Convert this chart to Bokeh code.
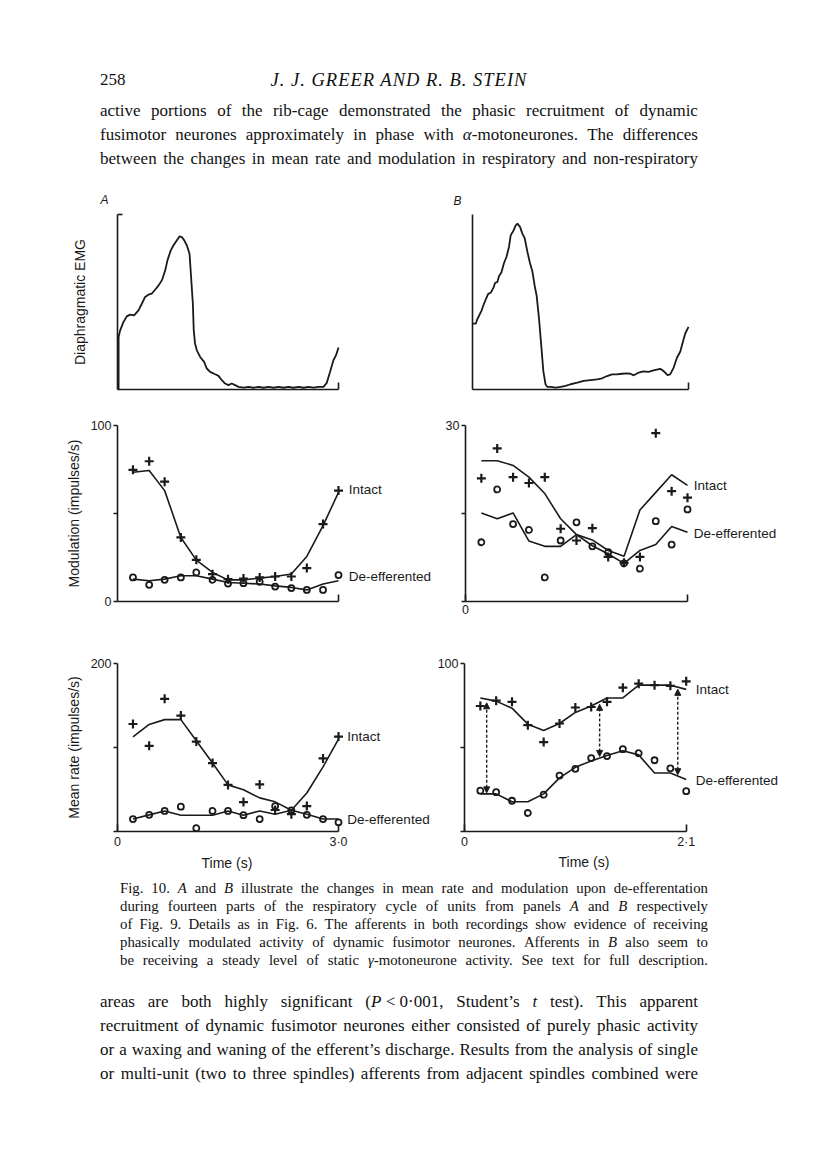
from bokeh.plotting import figure
from bokeh.layouts import column, row
from bokeh.models import Div, Range1d, FixedTicker, Label, Arrow, NormalHead, ColumnDataSource, Title
from bokeh.embed import file_html
from bokeh.resources import INLINE

# ---------------- data ----------------
# Diaphragmatic EMG traces (x = fraction of respiratory cycle, y = arbitrary amplitude 0-100)
emg_a_t = [0.005, 0.005, 0.012, 0.027, 0.042, 0.057, 0.075, 0.095, 0.110, 0.125, 0.140, 0.155, 0.170, 0.186,
           0.201, 0.216, 0.226, 0.241, 0.253, 0.268, 0.281, 0.291, 0.302, 0.314, 0.326, 0.333, 0.341, 0.345,
           0.351, 0.359, 0.374, 0.392, 0.404, 0.419, 0.442, 0.457, 0.472, 0.487, 0.502, 0.517, 0.532, 0.548,
           0.570, 0.593, 0.615, 0.638, 0.661, 0.683, 0.706, 0.729, 0.751, 0.774, 0.796, 0.819, 0.842, 0.864,
           0.887, 0.910, 0.932, 0.947, 0.962, 0.977, 0.989, 1.000]
emg_a_v = [0.0, 30.0, 33.8, 38.6, 41.8, 42.8, 42.4, 45.2, 49.0, 52.9, 54.2, 54.8, 57.0, 59.5,
           62.4, 68.1, 73.8, 79.5, 82.3, 85.2, 87.5, 87.1, 85.2, 82.3, 77.6, 64.3, 49.0, 33.8,
           26.2, 22.4, 18.6, 15.8, 12.0, 10.1, 8.7, 7.8, 5.3, 3.4, 2.5, 3.4, 2.5, 1.5,
           1.1, 1.5, 1.0, 1.5, 1.0, 1.5, 1.0, 1.5, 1.0, 1.5, 1.0, 1.5, 1.0, 1.5,
           1.1, 1.5, 1.5, 3.8, 10.1, 16.7, 19.6, 24.0]
emg_b_t = [0.0, 0.015, 0.023, 0.031, 0.042, 0.051, 0.062, 0.072, 0.085, 0.097, 0.105, 0.115, 0.123, 0.134,
           0.146, 0.158, 0.169, 0.177, 0.189, 0.200, 0.208, 0.220, 0.231, 0.242, 0.254, 0.266, 0.277, 0.288,
           0.297, 0.308, 0.318, 0.328, 0.338, 0.346, 0.362, 0.385, 0.408, 0.431, 0.454, 0.485, 0.515, 0.546,
           0.577, 0.600, 0.623, 0.646, 0.669, 0.692, 0.715, 0.731, 0.746, 0.769, 0.792, 0.815, 0.838, 0.869,
           0.885, 0.903, 0.915, 0.931, 0.946, 0.962, 0.974, 0.985, 1.000]
emg_b_v = [37.6, 37.6, 40.4, 42.3, 45.1, 48.3, 51.7, 54.5, 55.4, 58.2, 61.0, 61.4, 64.8, 67.0,
           72.3, 76.0, 81.6, 88.2, 90.6, 93.8, 94.8, 92.9, 89.1, 86.3, 78.8, 72.3, 67.6, 59.2,
           53.6, 40.4, 25.5, 10.5, 3.0, 1.5, 1.5, 1.1, 1.5, 2.1, 3.0, 3.9, 4.9, 5.4,
           5.8, 6.4, 7.7, 8.6, 8.6, 9.0, 9.2, 9.0, 8.1, 9.6, 10.3, 10.1, 10.9, 11.8,
           10.5, 8.2, 8.6, 12.4, 18.0, 21.7, 27.3, 32.0, 35.8]

# fourteen parts of the respiratory cycle (s)
time_a = [0.21, 0.43, 0.64, 0.86, 1.07, 1.29, 1.50, 1.71, 1.93, 2.14, 2.36, 2.57, 2.79, 3.00]
time_b = [0.15, 0.30, 0.45, 0.60, 0.75, 0.90, 1.05, 1.20, 1.35, 1.50, 1.65, 1.80, 1.95, 2.10]

# Modulation (impulses/s)
mod_a_intact_pts = [74.8, 79.7, 68.1, 36.4, 23.7, 15.5, 12.7, 13.0, 13.7, 14.2, 14.2, 19.0, 44.0, 63.0]
mod_a_intact_line = [73.4, 74.4, 63.0, 36.4, 23.5, 16.5, 12.3, 12.3, 13.3, 14.2, 15.6, 25.6, 43.1, 62.0]
mod_a_deeff_pts = [13.7, 9.5, 12.3, 13.7, 16.5, 12.3, 10.2, 10.4, 11.2, 8.5, 7.6, 6.6, 6.6, 15.0]
mod_a_deeff_line = [12.7, 11.8, 12.7, 14.6, 14.6, 12.7, 10.8, 10.4, 9.9, 8.9, 8.0, 6.6, 9.9, 11.8]

mod_b_intact_pts = [21.0, 26.1, 21.2, 20.2, 21.2, 12.4, 10.4, 12.5, 7.6, 6.6, 7.6, 28.7, 18.8, 17.7]
mod_b_intact_line = [24.0, 24.0, 23.2, 21.2, 18.4, 14.1, 11.4, 10.5, 8.7, 7.7, 15.6, 18.6, 21.6, 19.8]
mod_b_deeff_pts = [10.1, 19.1, 13.2, 12.2, 4.1, 10.4, 13.5, 9.4, 8.4, 6.5, 5.6, 13.7, 9.7, 15.7]
mod_b_deeff_line = [15.1, 14.1, 15.1, 10.3, 9.4, 9.4, 11.4, 9.5, 8.1, 6.5, 8.7, 9.7, 12.8, 11.8]

# Mean rate (impulses/s)
rate_a_intact_pts = [128, 102, 158, 138, 107, 81.5, 55.5, 35, 56, 25.6, 20.6, 30.3, 87, 113]
rate_a_intact_line = [112.6, 127.4, 133.2, 133.2, 108, 81.5, 55.5, 49.7, 40, 35.3, 25.2, 45.8, 76.9, 110]
rate_a_deeff_pts = [14.8, 19.8, 24.5, 29.5, 3.9, 24.5, 24.5, 19.4, 14.8, 30.3, 25.2, 19.8, 14.8, 10.9]
rate_a_deeff_line = [14.8, 19.8, 24.5, 19.4, 19.4, 19.4, 24.5, 19.4, 24.5, 20.6, 25.2, 20.6, 14.8, 14.8]

rate_b_intact_pts = [74.7, 77.9, 77.2, 63.3, 53.2, 64.3, 73.8, 74.1, 77.2, 85.6, 88.0, 87.1, 86.7, 89.4]
rate_b_intact_line = [79.5, 77.6, 73.4, 63.9, 60.1, 64.3, 70.9, 74.7, 79.5, 79.5, 87.1, 87.1, 87.1, 84.6]
rate_b_deeff_pts = [24.3, 23.4, 18.3, 11.0, 21.9, 33.3, 37.3, 43.7, 44.9, 49.0, 46.6, 42.4, 37.6, 24.0]
rate_b_deeff_line = [22.4, 22.4, 17.7, 17.7, 22.4, 31.9, 38.2, 42.0, 45.2, 48.1, 45.6, 34.8, 34.8, 31.0]

# dashed double arrows in panel B (mean rate)
arrow_x = [0.21, 1.28, 2.02]
arrow_top = [76.6, 75.7, 84.6]
arrow_bot = [23.0, 44.7, 33.8]

# page texts
header_number = "258"
header_title = "J. J. GREER AND R. B. STEIN"
para_top = [
    "active portions of the rib-cage demonstrated the phasic recruitment of dynamic",
    "fusimotor neurones approximately in phase with <i>α</i>-motoneurones. The differences",
    "between the changes in mean rate and modulation in respiratory and non-respiratory",
]
caption_lines = [
    "Fig. 10. <i>A</i> and <i>B</i> illustrate the changes in mean rate and modulation upon de-efferentation",
    "during fourteen parts of the respiratory cycle of units from panels <i>A</i> and <i>B</i> respectively",
    "of Fig. 9. Details as in Fig. 6. The afferents in both recordings show evidence of receiving",
    "phasically modulated activity of dynamic fusimotor neurones. Afferents in <i>B</i> also seem to",
    "be receiving a steady level of static <i>γ</i>-motoneurone activity. See text for full description.",
]
para_bottom = [
    "areas are both highly significant (<i>P</i>&nbsp;&lt;&nbsp;0·001, Student’s <i>t</i> test). This apparent",
    "recruitment of dynamic fusimotor neurones either consisted of purely phasic activity",
    "or a waxing and waning of the efferent’s discharge. Results from the analysis of single",
    "or multi-unit (two to three spindles) afferents from adjacent spindles combined were",
]

# ---------------- styling ----------------
INK = "#1a1a1a"
SANS = "Liberation Sans"
SERIF = "Liberation Serif"


def panel(width, height, borders, xmax, axis_px, ymax, yticks, ylabels, xticks, xlabels,
          ylabel=None, ytick_in=0, ytick_out=4, title=None, title_offset=0, title_standoff=10):
    left, right, top, bottom = borders
    frame_w = width - left - right
    x_end = xmax * frame_w / axis_px
    p = figure(width=width, height=height, x_range=Range1d(0, x_end), y_range=Range1d(0, ymax),
               output_backend="svg", toolbar_location=None,
               min_border_left=left, min_border_right=right,
               min_border_top=top, min_border_bottom=bottom,
               background_fill_color="white", border_fill_color="white", margin=0)
    p.outline_line_color = None
    p.xgrid.grid_line_color = None
    p.ygrid.grid_line_color = None
    if title:
        p.title.text = title
        p.title.align = "left"
        p.title.offset = title_offset
        p.title.standoff = title_standoff
        p.title.text_font = SANS
        p.title.text_font_style = "italic"
        p.title.text_font_size = "12px"
        p.title.text_color = INK
    for ax in (p.xaxis[0], p.yaxis[0]):
        ax.axis_line_color = INK
        ax.axis_line_width = 1.6
        ax.major_tick_line_color = INK
        ax.major_tick_line_width = 1.6
        ax.minor_tick_line_color = None
        ax.major_label_text_font = SANS
        ax.major_label_text_font_size = "12.5px"
        ax.major_label_text_color = INK
        ax.axis_label_text_font = SANS
        ax.axis_label_text_font_size = "14px"
        ax.axis_label_text_font_style = "normal"
        ax.axis_label_text_color = INK
    xa = p.xaxis[0]
    xa.bounds = (0, xmax)
    xa.ticker = FixedTicker(ticks=xticks)
    xa.major_label_overrides = dict(zip(xticks, xlabels))
    xa.major_tick_in = 7
    xa.major_tick_out = 0
    xa.major_label_standoff = 3
    ya = p.yaxis[0]
    ya.ticker = FixedTicker(ticks=yticks)
    ya.major_label_overrides = dict(zip(yticks, ylabels))
    ya.major_tick_in = ytick_in
    ya.major_tick_out = ytick_out
    ya.major_label_standoff = 2
    ya.axis_label_standoff = 6
    if ylabel:
        ya.axis_label = ylabel
    return p


def data_panel(p, t, ipts, iline, dpts, dline, lx, ly_int, ly_de):
    p.line(t, iline, line_color=INK, line_width=1.6)
    p.line(t, dline, line_color=INK, line_width=1.6)
    p.scatter(t, ipts, marker="cross", size=9, line_width=2.2, line_color=INK)
    p.scatter(t, dpts, marker="circle", size=6, line_width=1.8, line_color=INK, fill_color=None)
    for y, txt in ((ly_int, "Intact"), (ly_de, "De-efferented")):
        p.add_layout(Label(x=lx, y=y, text=txt, text_font=SANS, text_font_size="13.5px",
                           text_baseline="middle", text_align="left", text_color=INK))


def time_title(p, offset, standoff):
    # x-axis title, centred under the drawn axis (the frame extends further right for the labels)
    p.add_layout(Title(text="Time (s)", align="left", offset=offset, standoff=standoff,
                       text_font=SANS, text_font_size="14px", text_font_style="normal",
                       text_color=INK), "below")


WA, WB = 434, 374

# Row 1: diaphragmatic EMG
a1 = panel(WA, 218, (117, 2, 32, 11), 1.0, 221, 100, [100], [""], [1.0], [""],
           ylabel="Diaphragmatic EMG", ytick_in=5, ytick_out=0, title="A", title_offset=-17,
           title_standoff=16)
a1.yaxis[0].axis_label_standoff = 30
a1.line(emg_a_t, emg_a_v, line_color=INK, line_width=1.8)

b1 = panel(WB, 218, (38, 2, 29, 11), 1.0, 216, 100, [], [], [1.0], [""],
           ytick_out=0, title="B", title_offset=-19, title_standoff=13)
b1.line(emg_b_t, emg_b_v, line_color=INK, line_width=1.8)

# Row 2: modulation
a2 = panel(WA, 230, (117, 2, 25, 29), 3.0, 221, 100, [0, 50, 100], ["0", "", "100"], [3.0], [""],
           ylabel="Modulation (impulses/s)")
data_panel(a2, time_a, mod_a_intact_pts, mod_a_intact_line, mod_a_deeff_pts, mod_a_deeff_line,
           3.14, 63.6, 14.2)

b2 = panel(WB, 230, (31, 2, 25, 29), 2.1, 222, 30, [0, 15, 30], ["", "", "30"], [0, 2.1], ["0", ""])
data_panel(b2, time_b, mod_b_intact_pts, mod_b_intact_line, mod_b_deeff_pts, mod_b_deeff_line,
           2.16, 19.8, 11.6)

# Row 3: mean rate
a3 = panel(WA, 248, (117, 2, 33, 44), 3.0, 221, 200, [0, 100, 200], ["", "", "200"], [0, 3.0], ["0", "3·0"],
           ylabel="Mean rate (impulses/s)")
data_panel(a3, time_a, rate_a_intact_pts, rate_a_intact_line, rate_a_deeff_pts, rate_a_deeff_line,
           3.12, 113.5, 14.0)
time_title(a3, 84, 2)

b3 = panel(WB, 248, (28, 2, 26, 47), 2.1, 223, 100, [0, 50, 100], ["", "", "100"], [0, 2.1], ["0", "2·1"])
data_panel(b3, time_b, rate_b_intact_pts, rate_b_intact_line, rate_b_deeff_pts, rate_b_deeff_line,
           2.19, 84.6, 30.3)
time_title(b3, 94, 1)
src = ColumnDataSource(dict(x=arrow_x, y0=arrow_bot, y1=arrow_top))
b3.add_layout(Arrow(x_start="x", y_start="y0", x_end="x", y_end="y1", source=src,
                    start=NormalHead(size=6, fill_color=INK, line_color=INK),
                    end=NormalHead(size=6, fill_color=INK, line_color=INK),
                    line_color=INK, line_width=1.4, line_dash="3 2"))


# ---------------- page text ----------------
def just_line(html, left, top, width, size, lh):
    words = "".join(f"<span>{w}</span>" for w in html.split(" "))
    return (f'<div style="position:absolute;left:{left}px;top:{top}px;width:{width}px;height:{lh}px;'
            f'line-height:{lh}px;font-size:{size}px;display:flex;justify-content:space-between;'
            f'white-space:nowrap;">{words}</div>')


def page_div(inner, height):
    html = (f'<div style="position:relative;width:808px;height:{height}px;font-family:\'{SERIF}\';'
            f'color:#111;">{inner}</div>')
    return Div(text=html, width=808, height=height, margin=0)


hdr = (f'<div style="position:absolute;left:100px;top:68px;font-size:17px;line-height:24px;">{header_number}</div>'
       f'<div style="position:absolute;left:100px;width:598px;top:68px;font-size:18.5px;line-height:24px;'
       f'letter-spacing:1px;text-align:center;font-style:italic;">{header_title}</div>')
for i, ln in enumerate(para_top):
    hdr += just_line(ln, 100, 99 + 24 * i, 598, 17, 24)
header = page_div(hdr, 182)

cap = ""
for i, ln in enumerate(caption_lines):
    cap += just_line(ln, 120, 1 + 18 * i, 588, 14.8, 18)
caption = page_div(cap, 107)

body = ""
for i, ln in enumerate(para_bottom):
    body += just_line(ln, 100, 5 + 24 * i, 598, 17, 24)
bottom = page_div(body, 115)

layout = column(header,
                row(a1, b1, spacing=0),
                row(a2, b2, spacing=0),
                row(a3, b3, spacing=0),
                caption, bottom, spacing=0)

open("out.html", "w").write(file_html(layout, INLINE))
